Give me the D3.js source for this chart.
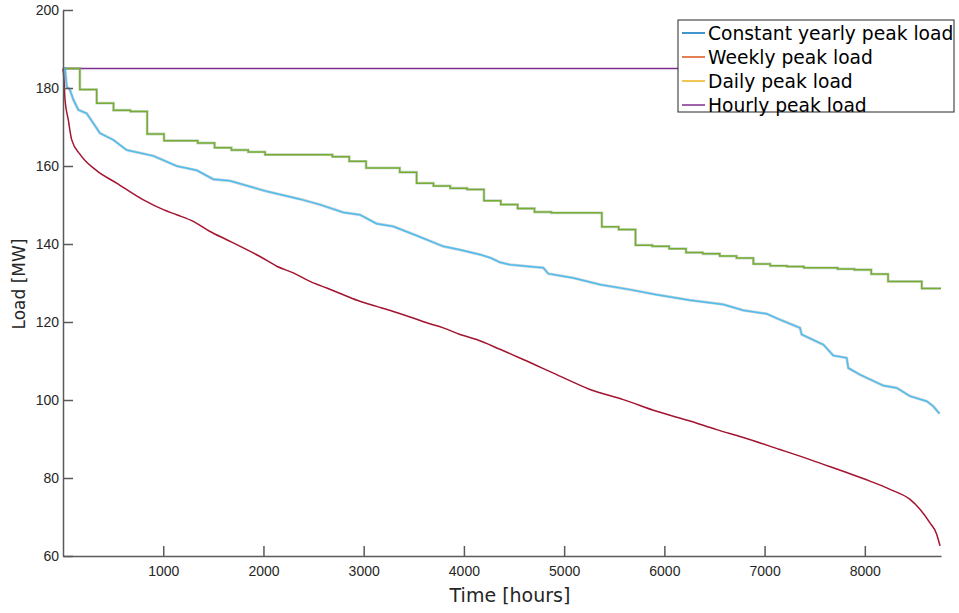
<!DOCTYPE html>
<html>
<head>
<meta charset="utf-8">
<script src="https://cdn.jsdelivr.net/npm/d3@7"></script>
<style>
  body { margin: 0; background: #fff; }
  svg { font-family: "DejaVu Sans", Verdana, sans-serif; }
  .axis path, .axis line { stroke: #5a5a5a; stroke-width: 1.5; }
  .axis text { fill: #262626; font-size: 14px; }
</style>
</head>
<body>
<div id="chartDiv"></div>
<script>
// legend names
const legendNames = ["Constant yearly peak load", "Weekly peak load", "Daily peak load", "Hourly peak load"];
const legendColors = ["#0072BD", "#D95319", "#EDB120", "#7E2F8E"];

// flat line (purple)
const flatHours = [0, 8760];
const flatLoad = [185, 185];

// weekly stepped line (green)
const stepHours = [0,168,336,504,672,840,1008,1176,1344,1512,1680,1848,2016,2184,2352,2520,2688,2856,3024,3192,
  3360,3528,3696,3864,4032,4200,4368,4536,4704,4872,5040,5208,5376,5544,5712,5880,6048,6216,6384,6552,
  6720,6888,7056,7224,7392,7560,7728,7896,8064,8232,8400,8568,8736,8760];
const stepLoad = [185,179.6,176.1,174.3,174.0,168.2,166.5,166.5,165.9,164.7,164.1,163.6,162.9,162.9,162.9,162.9,
  162.4,161.2,159.5,159.5,158.4,155.6,154.9,154.3,154.0,151.1,150.1,149.1,148.2,148.0,148.0,148.0,144.4,143.7,
  139.7,139.4,138.8,137.8,137.5,136.9,136.4,134.9,134.4,134.2,133.9,133.9,133.6,133.4,132.3,130.4,130.4,128.6,128.6,128.6];

// daily curve (cyan)
const dayHours = [0,20,37,70,103,153,236,302,369,502,635,901,1134,1334,1500,1666,2032,2365,2564,2797,2963,3130,
  3296,3545,3794,3961,4160,4270,4360,4460,4792,4842,5091,5358,5657,5923,6256,6588,6787,7021,7153,7353,7370,7586,
  7685,7819,7835,7952,8184,8318,8451,8617,8683,8745];
const dayLoad = [185,185,180.4,179.5,177.0,174.4,173.5,171.0,168.4,166.7,164.1,162.6,160.0,158.9,156.6,156.2,153.5,
  151.5,150.1,148.1,147.5,145.2,144.5,142.0,139.4,138.5,137.3,136.4,135.3,134.7,133.9,132.4,131.3,129.6,128.3,127.0,
  125.6,124.5,123.0,122.1,120.6,118.5,116.8,114.2,111.4,110.8,108.2,106.5,103.7,103.1,101.0,99.7,98.4,96.5];

// hourly curve (dark red)
const hourHours = [0,10,20,53,87,170,336,535,802,1001,1134,1300,1467,1633,1799,1966,2132,2298,2464,2631,2797,2963,
  3130,3296,3462,3629,3794,3961,4127,4360,4592,4926,5258,5590,5923,6256,6522,6787,7153,7353,7586,7819,8051,8251,
  8451,8550,8650,8717,8750];
const hourLoad = [185,182.1,177,171.8,166.7,163,158.8,155.6,151.3,148.8,147.5,145.8,143.2,141.1,139.0,136.8,134.3,
  132.6,130.4,128.7,127.0,125.3,124.0,122.7,121.3,119.8,118.5,116.8,115.5,113.0,110.4,106.5,102.7,100.1,97.1,94.6,
  92.4,90.4,87.3,85.6,83.5,81.4,79.2,77.1,74.5,72.0,68.5,65.6,62.6];

const xTicks = [1000,2000,3000,4000,5000,6000,7000,8000];
const yTicks = [60,80,100,120,140,160,180,200];

const W = 959, H = 613;
const svgObj = d3.select('#chartDiv').append('svg').attr('width', W).attr('height', H);

const x = d3.scaleLinear().domain([0, 8760]).range([63, 941]);
const y = d3.scaleLinear().domain([60, 200]).range([556, 10]);

const zip = (xs, ys) => xs.map((h, i) => [h, ys[i]]);
const line = d3.line().x(d => x(d[0])).y(d => y(d[1]));

// drawing layers
const plot = svgObj.append('g');

plot.append('path').datum(zip(flatHours, flatLoad))
  .attr('d', line).attr('fill', 'none').attr('stroke', '#7E2F8E').attr('stroke-width', 1.5);

// stepped weekly line with faint underlay
const stepLine = d3.line().x(d => x(d[0])).y(d => y(d[1])).curve(d3.curveStepAfter);
plot.append('path').datum(zip(stepHours, stepLoad))
  .attr('d', stepLine).attr('fill', 'none').attr('stroke', '#5f8a6a').attr('stroke-opacity', 0.35).attr('stroke-width', 2.8);
plot.append('path').datum(zip(stepHours, stepLoad))
  .attr('d', stepLine).attr('fill', 'none').attr('stroke', '#77AC30').attr('stroke-width', 1.5);

plot.append('path').datum(zip(dayHours, dayLoad))
  .attr('d', line).attr('fill', 'none').attr('stroke', '#7f97a8').attr('stroke-opacity', 0.45).attr('stroke-width', 2.8);
plot.append('path').datum(zip(dayHours, dayLoad))
  .attr('d', line).attr('fill', 'none').attr('stroke', '#4DBEEE').attr('stroke-width', 1.5);

const smooth = d3.line().x(d => x(d[0])).y(d => y(d[1])).curve(d3.curveMonotoneX);
plot.append('path').datum(zip(hourHours, hourLoad))
  .attr('d', smooth).attr('fill', 'none').attr('stroke', '#A2142F').attr('stroke-width', 1.5);

// axes (ticks pointing inward)
svgObj.append('g').attr('class', 'axis')
  .attr('transform', `translate(0,${y(60)})`)
  .call(d3.axisBottom(x).tickValues(xTicks).tickSize(-10).tickSizeOuter(0).tickPadding(10).tickFormat(d3.format('d')));

svgObj.append('g').attr('class', 'axis')
  .attr('transform', `translate(${x(0)},0)`)
  .call(d3.axisLeft(y).tickValues(yTicks).tickSize(-10).tickSizeOuter(0).tickPadding(4));

svgObj.append('text')
  .attr('x', 510).attr('y', 596).attr('text-anchor', 'middle').attr('dominant-baseline', 'middle')
  .attr('font-size', 19).attr('fill', '#262626').text('Time [hours]');

svgObj.append('text')
  .attr('transform', 'translate(20,284) rotate(-90)')
  .attr('text-anchor', 'middle').attr('dominant-baseline', 'middle')
  .attr('font-size', 17).attr('fill', '#262626').text('Load [MW]');

// legend
const legend = svgObj.append('g').attr('transform', 'translate(678,20)');
legend.append('rect').attr('width', 276).attr('height', 92)
  .attr('fill', '#fff').attr('stroke', '#262626').attr('stroke-width', 1);
legendNames.forEach((name, i) => {
  const cy = 13 + i * 24;
  legend.append('line').attr('x1', 4).attr('x2', 27).attr('y1', cy).attr('y2', cy)
    .attr('stroke', legendColors[i]).attr('stroke-width', 1.5);
  legend.append('text').attr('x', 30).attr('y', cy + 1).attr('dominant-baseline', 'middle')
    .attr('font-size', 18.7).attr('fill', '#000').text(name);
});
</script>
</body>
</html>
